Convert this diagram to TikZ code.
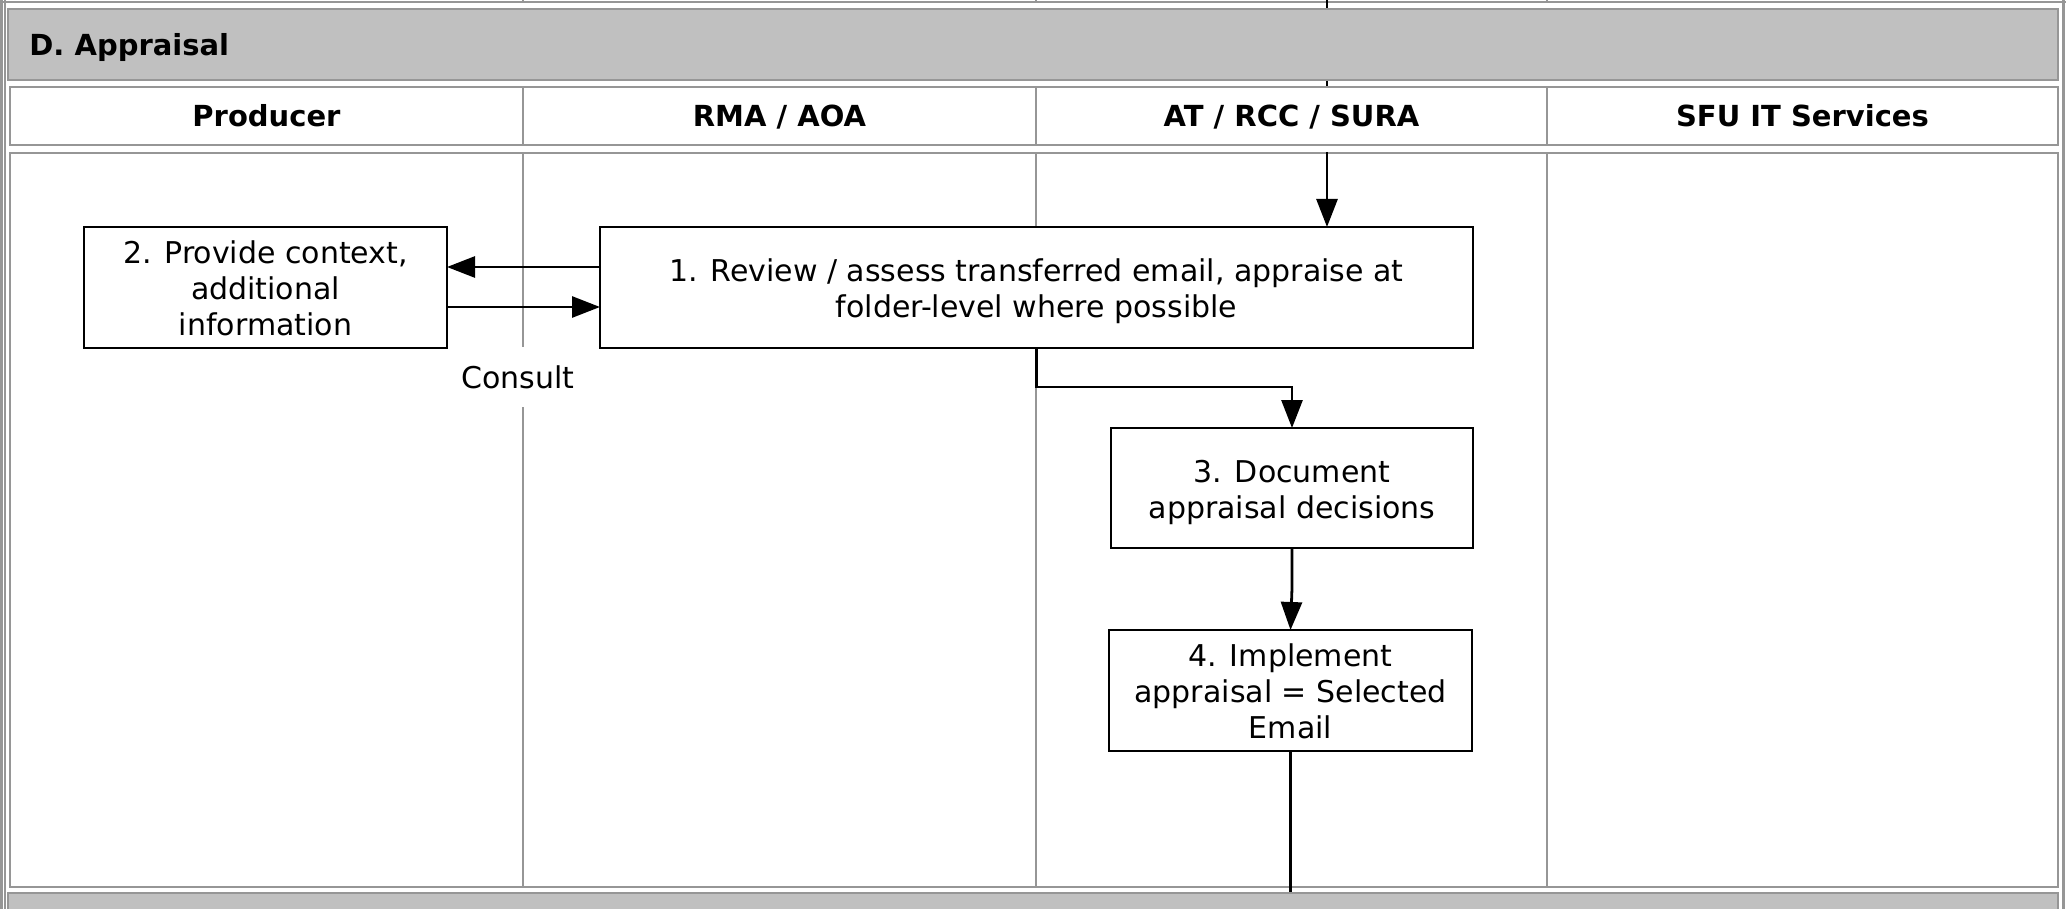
\documentclass[tikz,border=0pt]{standalone}
\usepackage{fontspec}
\setmainfont{DejaVu Sans}
\usetikzlibrary{arrows.meta}
\definecolor{tgray}{RGB}{150,150,150}
\definecolor{bandgray}{RGB}{192,192,192}
\newcommand\lnstrut{\rule[-4pt]{0pt}{18pt}}
\newcommand\topstrut{\rule[-4pt]{0pt}{20pt}}
\begin{document}
\begin{tikzpicture}[x=0.5pt,y=-0.5pt,
  cell/.style={draw=tgray,line width=1.4pt,fill=white},
  band/.style={draw=tgray,line width=1.4pt,fill=bandgray},
  gline/.style={draw=tgray,line width=1.4pt},
  hdr/.style={inner sep=0pt,anchor=base,font=\fontsize{14.5}{17}\selectfont\bfseries},
  stepbox/.style={draw=black,line width=1.4pt,fill=white,inner sep=0pt,outer sep=0pt,align=center,font=\fontsize{15}{18}\selectfont},
  lbl/.style={fill=white,inner sep=0pt,minimum width=34pt,minimum height=30pt,font=\fontsize{15}{18}\selectfont},
  arr/.style={line width=1.4pt,-{Triangle[length=14pt,width=10.5pt]}},
  ln/.style={line width=1.4pt}]
\useasboundingbox (0,0) rectangle (2066,909);
% previous section remnants
\draw[gline] (0,2) -- (2066,2);
\foreach \xx in {523,1036,1547} \draw[gline] (\xx,0) -- (\xx,2);
\coordinate (topin) at (1327,0);
\coordinate (bodyin) at (1327,152);
\coordinate (botout) at (1290.5,909);
\coordinate (yone) at (0,267);
\coordinate (ytwo) at (0,307);
\coordinate (ybend) at (0,387);
% outer edges
\draw[gline] (1.5,0) -- (1.5,909);
\draw[gline] (5,0) -- (5,909);
\draw[gline] (2063.5,0) -- (2063.5,909);
% title band
\draw[band] (8,9) rectangle (2058,80);
\node[hdr,anchor=base west] (title) at (29,55.5) {D. Appraisal};
% header cells
\draw[cell] (10,87) rectangle (523,145);
\draw[cell] (523,87) rectangle (1036,145);
\draw[cell] (1036,87) rectangle (1547,145);
\draw[cell] (1547,87) rectangle (2058,145);
\node[hdr] (hprod) at (266.5,126.5) {Producer};
\node[hdr] (hrma) at (779.5,126.5) {RMA / AOA};
\node[hdr] (hat) at (1291.5,126.5) {AT / RCC / SURA};
\node[hdr] (hsfu) at (1802.5,126.5) {SFU IT Services};
% body cells
\draw[cell] (10,153) rectangle (523,887);
\draw[cell] (523,153) rectangle (1036,887);
\draw[cell] (1036,153) rectangle (1547,887);
\draw[cell] (1547,153) rectangle (2058,887);
% steps
\node[stepbox,minimum width=181.5pt,minimum height=60.5pt] (s2) at (265.5,287.5) {\topstrut 2. Provide context,\\\lnstrut additional\\\lnstrut information};
\node[stepbox,minimum width=436.5pt,minimum height=60.5pt] (s1) at (1036.5,287.5) {\topstrut 1. Review / assess transferred email, appraise at\\\lnstrut folder-level where possible};
\node[stepbox,minimum width=181pt,minimum height=60pt] (s3) at (1292,488) {\topstrut 3. Document\\\lnstrut appraisal decisions};
\node[stepbox,minimum width=181.5pt,minimum height=60.5pt] (s4) at (1290.5,690.5) {\topstrut 4. Implement\\\lnstrut appraisal = Selected\\\lnstrut Email};
\node[lbl] (consult) at (518,377) {Consult};
% connectors
\draw[arr] (bodyin) -- (bodyin |- s1.north);
\draw[arr] (s1.west |- yone) -- (s2.east |- yone);
\draw[arr] (s2.east |- ytwo) -- (s1.west |- ytwo);
\draw[arr] (s1.south) -- (s1.south |- ybend) -| (s3.north);
\draw[arr] (s3.south) -- ++(0,40) -- (s4.north);
\draw[ln] (s4.south) -- (botout);
% next section band
\draw[band] (8,893) rectangle (2058,930);
% visible bits of incoming line above and between bands
\draw[ln] (topin) -- (1327,8);
\draw[ln] (1327,81) -- (1327,86);
\end{tikzpicture}
\end{document}
